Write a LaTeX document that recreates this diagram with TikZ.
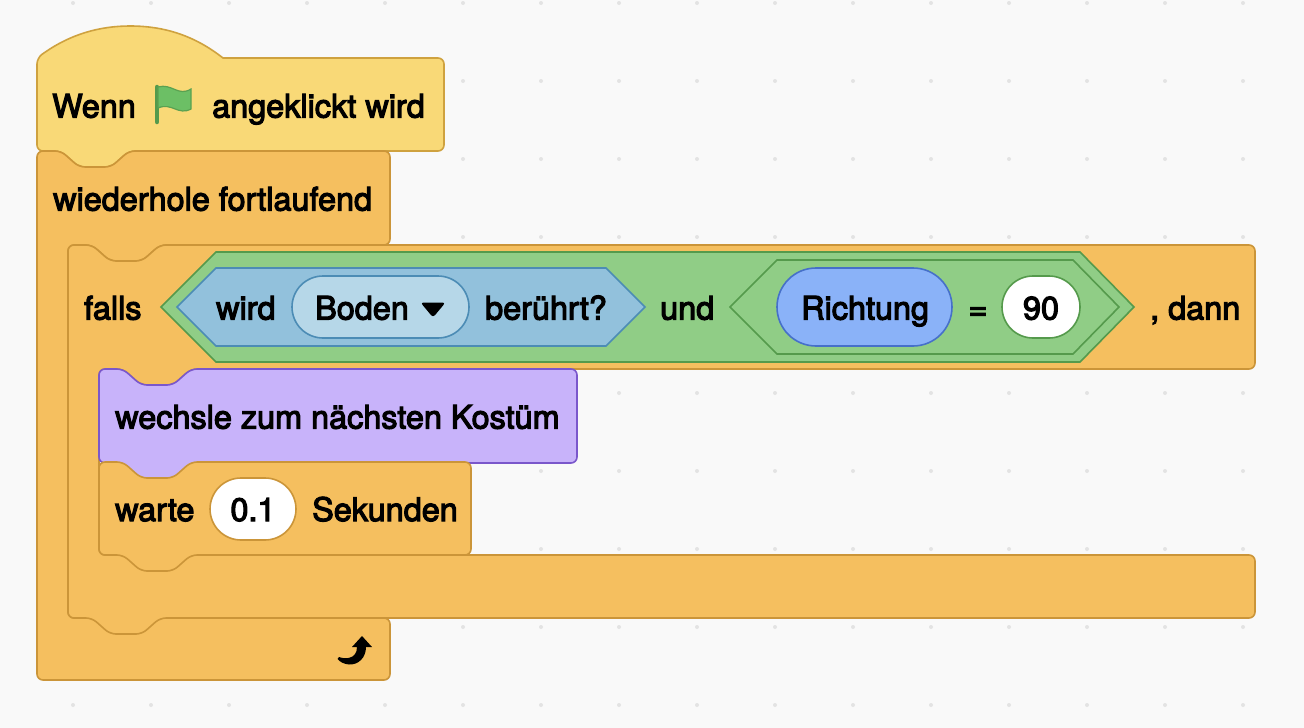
\documentclass[tikz,border=0pt]{standalone}
\usepackage{fontspec}
\setmainfont{TeX Gyre Heros}
\newfontfamily\blockfont[FakeBold=3.5]{TeX Gyre Heros}
\definecolor{pagebg}{HTML}{F9F9F9}
\definecolor{griddot}{HTML}{E3E3E3}
\definecolor{hatfill}{HTML}{F9D977}
\definecolor{hatline}{HTML}{CFA23F}
\definecolor{ctrlfill}{HTML}{F5BF5F}
\definecolor{ctrlline}{HTML}{CB9539}
\definecolor{lookfill}{HTML}{C8B3FA}
\definecolor{lookline}{HTML}{7A57CB}
\definecolor{opfill}{HTML}{90CD86}
\definecolor{opline}{HTML}{559A4C}
\definecolor{sensefill}{HTML}{92C1DC}
\definecolor{senseline}{HTML}{4C8CB5}
\definecolor{menufill}{HTML}{B6D7E8}
\definecolor{motionfill}{HTML}{8AB2F8}
\definecolor{motionline}{HTML}{4670C9}
\definecolor{flagfill}{HTML}{6CBF65}
\tikzset{
  hatblock/.style={draw=hatline,fill=hatfill,line width=1.6pt,rounded corners=6pt},
  ctrlblock/.style={draw=ctrlline,fill=ctrlfill,line width=1.6pt,rounded corners=6pt},
  lookblock/.style={draw=lookline,fill=lookfill,line width=1.6pt,rounded corners=6pt},
  ophex/.style={draw=opline,fill=opfill,line width=1.6pt},
  sensehex/.style={draw=senseline,fill=sensefill,line width=1.6pt},
  lbl/.style={anchor=base west,text=black,font=\blockfont\fontsize{32.4}{36}\selectfont},
  lblc/.style={lbl,anchor=base}
}
\begin{document}
\begin{tikzpicture}[x=1pt,y=1pt]
\tikzstyle{every node}+=[inner sep=0pt]
\fill [pagebg] (0,0) rectangle (1304,-728);
\useasboundingbox (0,0) rectangle (1304,-728);
\foreach \gx in {-5,73,...,1321} \foreach \gy in {-3,-81,...,-705} \fill [griddot] (\gx,\gy) circle (2);
% hat
\draw [hatblock] (37,-58) [rounded corners=0pt] .. controls (70,-34) and (100,-26) .. (130,-26) .. controls (165,-26) and (195,-36) .. (223,-58) [rounded corners=6pt] -- (444,-58) -- (444,-151) -- (129,-151) -- (111,-167) -- (79,-167) -- (61,-151) -- (37,-151) -- cycle;
% forever
\draw [ctrlblock] (37,-151) -- (61,-151) -- (79,-167) -- (111,-167) -- (129,-151) -- (390,-151) -- (390,-245) -- (160,-245) -- (142,-261) -- (110,-261) -- (92,-245) -- (68,-245) -- (68,-618) -- (390,-618) -- (390,-680) -- (37,-680) -- cycle;
% if
\draw [ctrlblock] (68,-245) -- (92,-245) -- (110,-261) -- (142,-261) -- (160,-245) -- (1255,-245) -- (1255,-369) -- (191,-369) -- (173,-385) -- (141,-385) -- (123,-369) -- (99,-369) -- (99,-555) -- (1255,-555) -- (1255,-618) -- (160,-618) -- (142,-634) -- (110,-634) -- (92,-618) -- (68,-618) -- cycle;
% costume
\draw [lookblock] (99,-369) -- (123,-369) -- (141,-385) -- (173,-385) -- (191,-369) -- (577,-369) -- (577,-463) -- (191,-463) -- (173,-479) -- (141,-479) -- (123,-463) -- (99,-463) -- cycle;
% wait
\draw [ctrlblock] (99,-462) -- (123,-462) -- (141,-478) -- (173,-478) -- (191,-462) -- (471,-462) -- (471,-555) -- (191,-555) -- (173,-571) -- (141,-571) -- (123,-555) -- (99,-555) -- cycle;
% conditions
\draw [ophex] (161,-307) -- (216,-252) -- (1080,-252) -- (1134,-307) -- (1080,-362) -- (216,-362) -- cycle;
\draw [sensehex] (177,-307) -- (216,-268) -- (606,-268) -- (645,-307) -- (606,-346) -- (216,-346) -- cycle;
\draw [ophex] (730,-307) -- (777,-260) -- (1073,-260) -- (1119,-307) -- (1073,-354) -- (777,-354) -- cycle;
\draw [sensehex,fill=menufill,rounded corners=31pt] (292,-276) rectangle (469,-338);
\draw [draw=motionline,fill=motionfill,line width=1.6pt,rounded corners=39pt] (777,-268) rectangle (952,-346);
\draw [ophex,fill=white,rounded corners=31pt] (1002,-276) rectangle (1080,-338);
\draw [ctrlblock,fill=white,rounded corners=31pt] (210,-478) rectangle (296,-540);
\fill [black,rounded corners=3pt] (420.5,-302.5) -- (445.5,-302.5) -- (433,-317.5) -- cycle;
% flag
\draw [draw=opline,line width=4.5pt,line cap=round] (157,-87) -- (157,-122);
\draw [draw=opline!80!flagfill,fill=flagfill,line width=1.2pt] (158,-87) .. controls (172,-83) and (178,-97) .. (191,-89) -- (191,-109) .. controls (178,-116) and (172,-102) .. (158,-108) -- cycle;
% arrow
\fill [black] (362,-636) -- (372,-647) -- (366,-647) .. controls (366,-658) and (358,-665) .. (349,-664.5) .. controls (344,-664) and (340,-662) .. (337.5,-659) -- (339,-657) .. controls (344,-659) and (357,-660) .. (357,-647) -- (352,-647) -- cycle;
% labels
\draw (52,-117.5) node [lbl] (wenn) {Wenn};
\draw (212,-117.5) node [lbl] (angeklickt) {angeklickt wird};
\draw (53,-210.5) node [lbl] (wiederhole) {wiederhole fortlaufend};
\draw (84,-319.5) node [lbl] (falls) {falls};
\draw (216,-319.5) node [lbl] (wird) {wird};
\draw (315,-319.5) node [lbl] (boden) {Boden};
\draw (485,-319.5) node [lbl] (beruehrt) {berührt?};
\draw (660,-319.5) node [lbl] (und) {und};
\draw (801,-319.5) node [lbl] (richtung) {Richtung};
\draw (978,-319.5) node [lblc] (gleich) {=};
\draw (1041,-319.5) node [lblc] (neunzig) {90};
\draw (1150,-319.5) node [lbl] (dann) {, dann};
\draw (115,-428.5) node [lbl] (wechsle) {wechsle zum nächsten Kostüm};
\draw (115,-521) node [lbl] (warte) {warte};
\draw (253,-521) node [lblc] (zeit) {0.1};
\draw (312,-521) node [lbl] (sekunden) {Sekunden};
\end{tikzpicture}
\end{document}
